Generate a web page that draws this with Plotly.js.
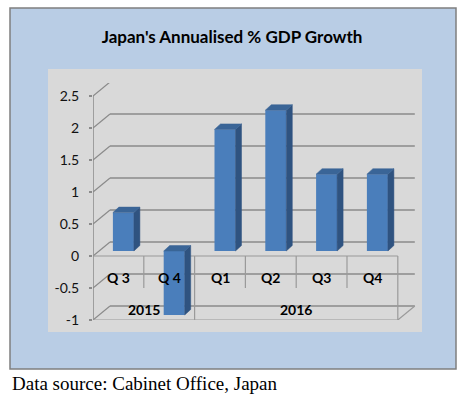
<!DOCTYPE html>
<html>
<head>
<meta charset="utf-8">
<script src="https://cdn.plot.ly/plotly-3.0.1.min.js"></script>
<style>html,body{margin:0;padding:0;background:#fff;}#chart{width:468px;height:398px;}</style>
</head>
<body>
<div id="chart"></div>
<script>
// ---- data ----
const quarterLabels = ['Q 3', 'Q 4', 'Q1', 'Q2', 'Q3', 'Q4'];
const yearLabels = ['2015', '2016'];
const yearSpans = [2, 4]; // number of quarters under each year
const gdpGrowth = [0.6, -1.0, 1.9, 2.2, 1.2, 1.2];
const yTickValues = [-1, -0.5, 0, 0.5, 1, 1.5, 2, 2.5];
const yTickLabels = ['-1', '-0.5', '0', '0.5', '1', '1.5', '2', '2.5'];
const titleText = "Japan's Annualised % GDP Growth";
const sourceText = 'Data source: Cabinet Office, Japan';

// ---- layout geometry (pixels) ----
const W = 468, H = 398;
const PL = 93, PR = 416, PT = 83, PB = 320;     // plot area
const PX_PER_Y = 64, PX_PER_CAT = 50.8;
const yMin = -1, yMax = yMin + (PB - PT) / PX_PER_Y;
const xMin = -0.5, xMax = xMin + (PR - PL) / PX_PER_CAT;
const DXB = 17 / PX_PER_CAT, DYB = 14 / PX_PER_Y;   // back wall offset
const BAR_W = 21 / PX_PER_CAT;
const BAR_DX = 5 / PX_PER_CAT, BAR_DY = 5 / PX_PER_Y;  // bar front offset
const BAR_DEPTH_X = 6 / PX_PER_CAT, BAR_DEPTH_Y = 5.5 / PX_PER_Y;
const GRID = '#8a8a8a', TABLE = '#9a9a9a';

const px2pX = p => (p - PL) / (PR - PL);
const px2pY = p => (PB - p) / (PB - PT);

const n = gdpGrowth.length;
const xIdx = gdpGrowth.map((_, i) => i);
const shapes = [];
// outer box & grey area
shapes.push({type:'rect', xref:'paper', yref:'paper', layer:'below',
  x0:px2pX(10), x1:px2pX(456), y0:px2pY(369), y1:px2pY(8),
  fillcolor:'#b9cde5', line:{color:'#7f7f7f', width:1.5}});
shapes.push({type:'rect', xref:'paper', yref:'paper', layer:'below',
  x0:px2pX(48), x1:px2pX(422), y0:px2pY(332), y1:px2pY(69),
  fillcolor:'#d9d9d9', line:{width:0}});
// back wall gridlines + left diagonals
const xL = -0.5, xR = n - 0.5;
yTickValues.forEach(v => {
  shapes.push({type:'line', xref:'x', yref:'y', layer:'below',
    x0:xL + DXB, x1:xR + DXB, y0:v + DYB, y1:v + DYB, line:{color:GRID, width:1.5}});
  shapes.push({type:'line', xref:'x', yref:'y', layer:'below',
    x0:xL, x1:xL + DXB, y0:v, y1:v + DYB, line:{color:GRID, width:1.2}});
});
// right floor diagonal
shapes.push({type:'line', xref:'x', yref:'y', layer:'below',
  x0:xR, x1:xR + DXB, y0:yMin, y1:yMin + DYB, line:{color:TABLE, width:1.2}});
// front vertical axis
shapes.push({type:'line', xref:'x', yref:'y', layer:'below',
  x0:xL, x1:xL, y0:yMin, y1:yTickValues[yTickValues.length-1], line:{color:GRID, width:1.5}});
// category table (front plane)
shapes.push({type:'line', xref:'x', yref:'y', layer:'below',
  x0:xL, x1:xR, y0:0, y1:0, line:{color:TABLE, width:1.2}});
shapes.push({type:'line', xref:'x', yref:'y', layer:'below',
  x0:xL, x1:xR, y0:yMin, y1:yMin, line:{color:TABLE, width:1.2}});
shapes.push({type:'line', xref:'x', yref:'y', layer:'below',
  x0:xR, x1:xR, y0:0, y1:yMin, line:{color:TABLE, width:1.2}});
const yearBounds = [];
let acc = 0;
yearSpans.forEach(s => { acc += s; yearBounds.push(acc); });
for (let i = 1; i < n; i++) {
  const full = yearBounds.includes(i);
  shapes.push({type:'line', xref:'x', yref:'y', layer:'below',
    x0:i - 0.5, x1:i - 0.5, y0:0, y1:full ? yMin : -0.5, line:{color:TABLE, width:1.2}});
}
// 3D bar side & top faces
gdpGrowth.forEach((v, i) => {
  const xl = i + BAR_DX - BAR_W / 2, xr = i + BAR_DX + BAR_W / 2;
  const b = BAR_DY, t = BAR_DY + v;
  const lo = Math.min(b, t), hi = Math.max(b, t);
  shapes.push({type:'path', xref:'x', yref:'y', layer:'above',
    path:`M${xr},${lo} L${xr + BAR_DEPTH_X},${lo + BAR_DEPTH_Y} L${xr + BAR_DEPTH_X},${hi + BAR_DEPTH_Y} L${xr},${hi} Z`,
    fillcolor:'#2f5380', line:{color:'#2f5380', width:0.5}});
  shapes.push({type:'path', xref:'x', yref:'y', layer:'above',
    path:`M${xl},${hi} L${xr},${hi} L${xr + BAR_DEPTH_X},${hi + BAR_DEPTH_Y} L${xl + BAR_DEPTH_X},${hi + BAR_DEPTH_Y} Z`,
    fillcolor:'#3a6597', line:{color:'#3a6597', width:0.5}});
});

// labels
const annotations = [];
quarterLabels.forEach((q, i) => {
  annotations.push({x:i, y:-0.33, xref:'x', yref:'y', text:'<b>' + q + '</b>', showarrow:false,
    font:{family:'Lato, Carlito, sans-serif', size:14, color:'#000'}});
});
let start = 0;
yearLabels.forEach((yl, k) => {
  const c = start + (yearSpans[k] - 1) / 2;
  annotations.push({x:c, y:-0.83, xref:'x', yref:'y', text:'<b>' + yl + '</b>', showarrow:false,
    font:{family:'Lato, Carlito, sans-serif', size:14, color:'#000'}});
  start += yearSpans[k];
});
annotations.push({x:px2pX(10), y:px2pY(383), xref:'paper', yref:'paper', xanchor:'left', yanchor:'middle',
  text:sourceText, showarrow:false, font:{family:'Liberation Serif, Times New Roman, serif', size:19, color:'#000'}});

const trace = {
  type:'bar', x:xIdx, y:gdpGrowth, base:BAR_DY, width:BAR_W, offset:BAR_DX - BAR_W / 2,
  marker:{color:'#4a7ebb', line:{width:0}}, hoverinfo:'skip'
};

const layout = {
  width:W, height:H,
  margin:{l:PL, r:W - PR, t:PT, b:H - PB, pad:0},
  paper_bgcolor:'#ffffff', plot_bgcolor:'rgba(0,0,0,0)',
  showlegend:false,
  title:{text:'<b>' + titleText + '</b>', x:232 / W, y:1 - 37 / H, xanchor:'center', yanchor:'middle',
    xref:'container', yref:'container', font:{family:'Lato, Carlito, sans-serif', size:17, color:'#000'}},
  xaxis:{range:[xMin, xMax], showgrid:false, zeroline:false, showline:false, showticklabels:false, ticks:'', fixedrange:true},
  yaxis:{range:[yMin, yMax], tickvals:yTickValues, ticktext:yTickLabels, showgrid:false, zeroline:false,
    showline:false, ticks:'outside', ticklen:3, tickcolor:GRID, tickwidth:1.2, ticklabelstandoff:7,
    tickfont:{family:'Lato, Carlito, sans-serif', size:14, color:'#111'}, fixedrange:true},
  shapes:shapes, annotations:annotations
};
Plotly.newPlot('chart', [trace], layout, {displayModeBar:false, staticPlot:true});
</script>
</body>
</html>
